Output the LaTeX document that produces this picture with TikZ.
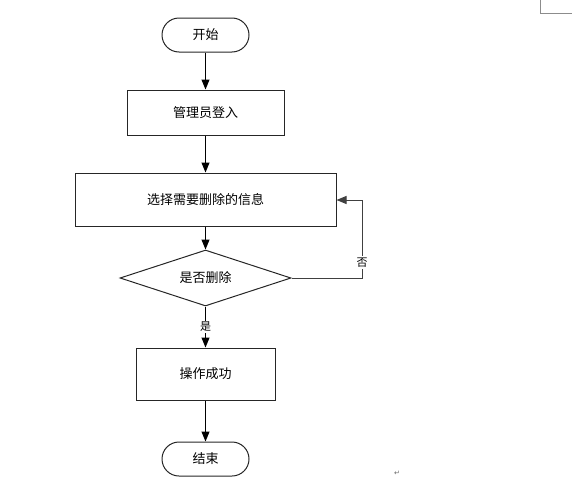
\documentclass[tikz,border=0pt]{standalone}
\usepackage{fontspec}
\newfontfamily\cjk{Noto Sans CJK SC}
\newfontfamily\djv{DejaVu Sans}
\usetikzlibrary{arrows.meta,shapes.geometric}
\begin{document}
\begin{tikzpicture}[x=1pt,y=-1pt,
  every node/.style={font=\cjk\fontsize{13}{15}\selectfont, text=black},
  term/.style={draw=black!85, line width=1pt, rectangle, rounded corners=17pt, minimum width=87pt, minimum height=34pt, inner sep=0pt},
  proc/.style={draw=black!85, line width=1pt, rectangle, inner sep=0pt},
  dec/.style={draw=black!85, line width=1pt, diamond, aspect=3, inner sep=0pt, minimum width=171pt, minimum height=56pt},
  arr/.style={draw=black, line width=1pt, -{Triangle[length=10pt,width=8pt]}},
  lbl/.style={fill=white, inner sep=1.5pt, font=\cjk\fontsize{11}{13}\selectfont}
]
\useasboundingbox (0,0) rectangle (572,479);
\node[term] (start) at (205.5,35) {开始};
\node[proc, minimum width=157pt, minimum height=45pt] (login) at (205.5,112.5) {管理员登入};
\node[proc, minimum width=261pt, minimum height=53pt] (select) at (205.5,199.5) {选择需要删除的信息};
\node[dec] (ask) at (205.5,278) {是否删除};
\node[proc, minimum width=139pt, minimum height=52pt] (ok) at (205.5,374) {操作成功};
\node[term] (end) at (205.5,459) {结束};
\coordinate (c1) at (362,278);
\coordinate (c2) at (362,200);
\draw[arr] (start) -- (login);
\draw[arr] (login) -- (select);
\draw[arr] (select) -- (ask);
\draw[arr] (ask) -- node[lbl, pos=0.5] {是} (ok);
\draw[arr] (ok) -- (end);
\draw[arr, draw=black!75] (ask.east) -- (c1) -- node[lbl, pos=0.2] {否} (c2) -- (select.east |- c2);
\draw[black!45, line width=0.6pt] (540,0) -- (540,13) -- (572,13);
\node[font=\djv\fontsize{7}{8}\selectfont, text=black!60] (ret) at (397,473) {↵};
\end{tikzpicture}
\end{document}
